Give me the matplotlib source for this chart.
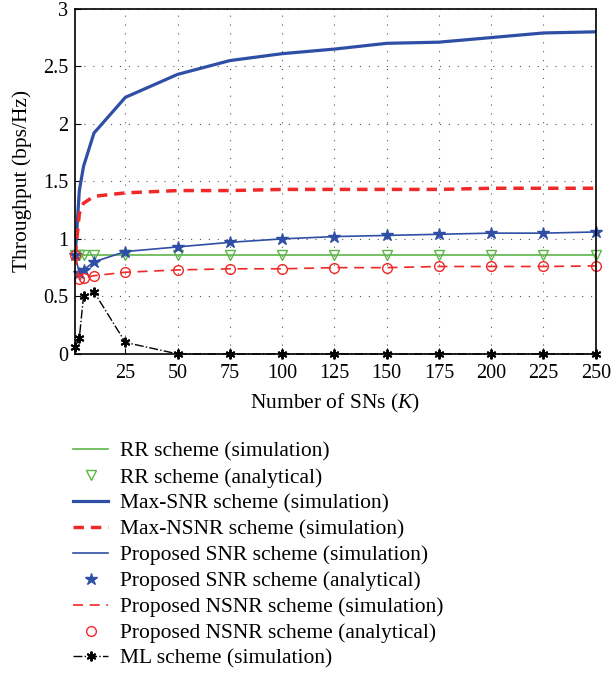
import matplotlib.pyplot as plt
import matplotlib.lines as mlines

plt.rcParams['font.family'] = ['Liberation Serif', 'DejaVu Serif']
plt.rcParams['mathtext.fontset'] = 'custom'
plt.rcParams['mathtext.it'] = 'Liberation Serif:italic'
plt.rcParams['mathtext.rm'] = 'Liberation Serif'

# number of SNs
K = [1, 3, 5, 10, 25, 50, 75, 100, 125, 150, 175, 200, 225, 250]

rr_sim = [0.86, 0.86, 0.86, 0.86, 0.86, 0.86, 0.86, 0.86, 0.86, 0.86, 0.86, 0.86, 0.86, 0.86]
rr_ana = [0.86, 0.86, 0.86, 0.86, 0.86, 0.86, 0.86, 0.86, 0.86, 0.86, 0.86, 0.86, 0.86, 0.86]
max_snr = [0.85, 1.42, 1.63, 1.92, 2.23, 2.43, 2.55, 2.61, 2.65, 2.70, 2.71, 2.75, 2.79, 2.80]
max_nsnr = [0.85, 1.22, 1.31, 1.37, 1.40, 1.42, 1.42, 1.43, 1.43, 1.43, 1.43, 1.44, 1.44, 1.44]
prop_snr_sim = [0.86, 0.70, 0.73, 0.80, 0.89, 0.93, 0.97, 1.00, 1.02, 1.03, 1.04, 1.05, 1.05, 1.06]
prop_snr_ana = [0.86, 0.70, 0.73, 0.80, 0.89, 0.93, 0.97, 1.00, 1.02, 1.03, 1.04, 1.05, 1.05, 1.06]
prop_nsnr_sim = [0.86, 0.65, 0.66, 0.68, 0.71, 0.73, 0.74, 0.74, 0.75, 0.75, 0.76, 0.76, 0.76, 0.765]
prop_nsnr_ana = [0.86, 0.65, 0.66, 0.68, 0.71, 0.73, 0.74, 0.74, 0.75, 0.75, 0.76, 0.76, 0.76, 0.765]
ml = [0.06, 0.14, 0.50, 0.54, 0.10, 0.0, 0.0, 0.0, 0.0, 0.0, 0.0, 0.0, 0.0, 0.0]

xticks = [25, 50, 75, 100, 125, 150, 175, 200, 225, 250]
yticks = [0, 0.5, 1, 1.5, 2, 2.5, 3]
ytick_labels = ['0', '0.5', '1', '1.5', '2', '2.5', '3']

green = '#5db548'
blue = '#2f4ea6'
red = '#f02828'
fs = 15.5

fig = plt.figure(figsize=(6.11, 6.78), dpi=100)
ax = fig.add_axes([0.123, 0.478, 0.852, 0.509])

ax.plot(K, rr_sim, color=green, lw=1.2)
ax.plot(K, rr_ana, ls='none', marker='v', mfc='none', mec=green, ms=7, mew=1.0, clip_on=False)
ax.plot(K, max_snr, color=blue, lw=2.3)
ax.plot(K, max_nsnr, color=red, lw=2.5, ls=(0, (3, 2)))
ax.plot(K, prop_snr_sim, color=blue, lw=1.2)
ax.plot(K, prop_snr_ana, ls='none', marker='*', color=blue, ms=9, clip_on=False)
ax.plot(K, prop_nsnr_sim, color=red, lw=1.2, ls=(0, (6, 4)))
ax.plot(K, prop_nsnr_ana, ls='none', marker='o', mfc='none', mec=red, ms=7, mew=1.0, clip_on=False)
ax.plot(K, ml, color='black', lw=1.0, ls='-.', marker=(6, 2, 0), ms=7, mew=1.4, clip_on=False)

ax.set_xlim(1, 250)
ax.set_ylim(0, 3)
ax.set_xticks(xticks)
ax.set_yticks(yticks)
ax.set_yticklabels(ytick_labels)
ax.tick_params(direction='in', labelsize=14.5, length=4, top=False, right=False)
ax.tick_params(axis='x', pad=7)
ax.tick_params(axis='y', pad=5)
ax.grid(True, ls=(0, (1, 7)), color='#555555', lw=0.8)
for s in ax.spines.values():
    s.set_linewidth(1.2)
ax.set_xlabel('Number of SNs ($K$)', fontsize=fs, labelpad=7)
ax.set_ylabel('Throughput (bps/Hz)', fontsize=fs, labelpad=8)

handles = [
    mlines.Line2D([], [], color=green, lw=1.2),
    mlines.Line2D([], [], ls='none', marker='v', mfc='none', mec=green, ms=7),
    mlines.Line2D([], [], color=blue, lw=2.3),
    mlines.Line2D([], [], color=red, lw=2.5, ls=(0, (3, 2))),
    mlines.Line2D([], [], color=blue, lw=1.2),
    mlines.Line2D([], [], ls='none', marker='*', color=blue, ms=9),
    mlines.Line2D([], [], color=red, lw=1.2, ls=(0, (6, 4))),
    mlines.Line2D([], [], ls='none', marker='o', mfc='none', mec=red, ms=7),
    mlines.Line2D([], [], color='black', lw=1.0, ls='-.', marker=(6, 2, 0), ms=7, mew=1.4),
]
labels = [
    'RR scheme (simulation)',
    'RR scheme (analytical)',
    'Max-SNR scheme (simulation)',
    'Max-NSNR scheme (simulation)',
    'Proposed SNR scheme (simulation)',
    'Proposed SNR scheme (analytical)',
    'Proposed NSNR scheme (simulation)',
    'Proposed NSNR scheme (analytical)',
    'ML scheme (simulation)',
]
fig.legend(handles, labels, loc='upper left', bbox_to_anchor=(0.1055, 0.361),
           frameon=False, fontsize=fs, handlelength=1.63, handletextpad=0.56,
           labelspacing=0.27, borderaxespad=0)

fig.savefig('out.png', dpi=100)
